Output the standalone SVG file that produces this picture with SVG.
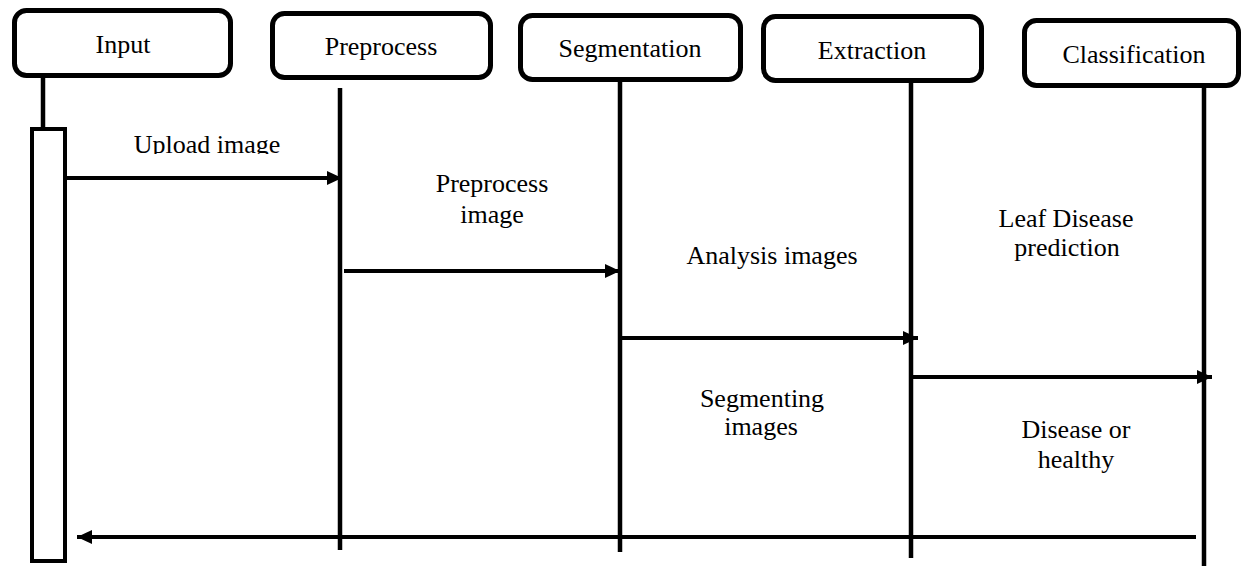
<svg xmlns="http://www.w3.org/2000/svg" width="1244" height="566" viewBox="0 0 1244 566">
<style>
.box{fill:#fff;stroke:#000;stroke-width:5}
.life{stroke:#000;stroke-width:4.5;fill:none}
.msg{stroke:#000;stroke-width:4;fill:none}
.t{font-family:"Liberation Serif","Times New Roman",serif;font-size:26px;fill:#000;text-anchor:middle}
</style>
<defs>
<marker id="ah" markerUnits="userSpaceOnUse" markerWidth="15" markerHeight="14" refX="15" refY="7" orient="auto">
<path d="M0,0 L15,7 L0,14 z" fill="#000"/>
</marker>
<clipPath id="clipUp"><rect x="0" y="100" width="400" height="54"/></clipPath>
</defs>
<rect width="1244" height="566" fill="#fff"/>
<g id="input">
<rect class="box" x="14.5" y="10.5" width="216" height="65" rx="12"/>
<text class="t" x="123" y="53">Input</text>
<line class="life" x1="43" y1="78" x2="43" y2="128"/>
<rect x="32" y="129" width="33" height="432" fill="#fff" stroke="#000" stroke-width="4"/>
</g>
<g id="preprocess">
<rect class="box" x="272.5" y="13.5" width="218" height="64" rx="12"/>
<text class="t" x="381" y="55">Preprocess</text>
<line class="life" x1="340" y1="88" x2="340" y2="550"/>
</g>
<g id="segmentation">
<rect class="box" x="520.5" y="15.5" width="220" height="64" rx="12"/>
<text class="t" x="630" y="57">Segmentation</text>
<line class="life" x1="620" y1="82" x2="620" y2="552"/>
</g>
<g id="extraction">
<rect class="box" x="763.5" y="16.5" width="218" height="64" rx="12"/>
<text class="t" x="872" y="59">Extraction</text>
<line class="life" x1="911" y1="83" x2="911" y2="558"/>
</g>
<g id="classification">
<rect class="box" x="1024.5" y="20.5" width="214" height="65" rx="12"/>
<text class="t" x="1134" y="63">Classification</text>
<line class="life" x1="1204" y1="88" x2="1204" y2="566"/>
</g>
<g id="connectors">
<line class="msg" x1="63" y1="178" x2="342" y2="178" marker-end="url(#ah)"/>
<line class="msg" x1="344" y1="271" x2="620" y2="271" marker-end="url(#ah)"/>
<line class="msg" x1="622" y1="338" x2="918" y2="338" marker-end="url(#ah)"/>
<line class="msg" x1="913" y1="377" x2="1212" y2="377" marker-end="url(#ah)"/>
<line class="msg" x1="1196" y1="537" x2="77" y2="537" marker-end="url(#ah)"/>
</g>
<g id="labels">
<text class="t" x="207" y="153" clip-path="url(#clipUp)">Upload image</text>
<text class="t" x="492" y="192">Preprocess</text>
<text class="t" x="492" y="223">image</text>
<text class="t" x="772" y="264">Analysis images</text>
<text class="t" x="1066" y="227">Leaf Disease</text>
<text class="t" x="1067" y="256">prediction</text>
<text class="t" x="762" y="407">Segmenting</text>
<text class="t" x="761" y="435">images</text>
<text class="t" x="1076" y="438">Disease or</text>
<text class="t" x="1076" y="468">healthy</text>
</g>
</svg>
